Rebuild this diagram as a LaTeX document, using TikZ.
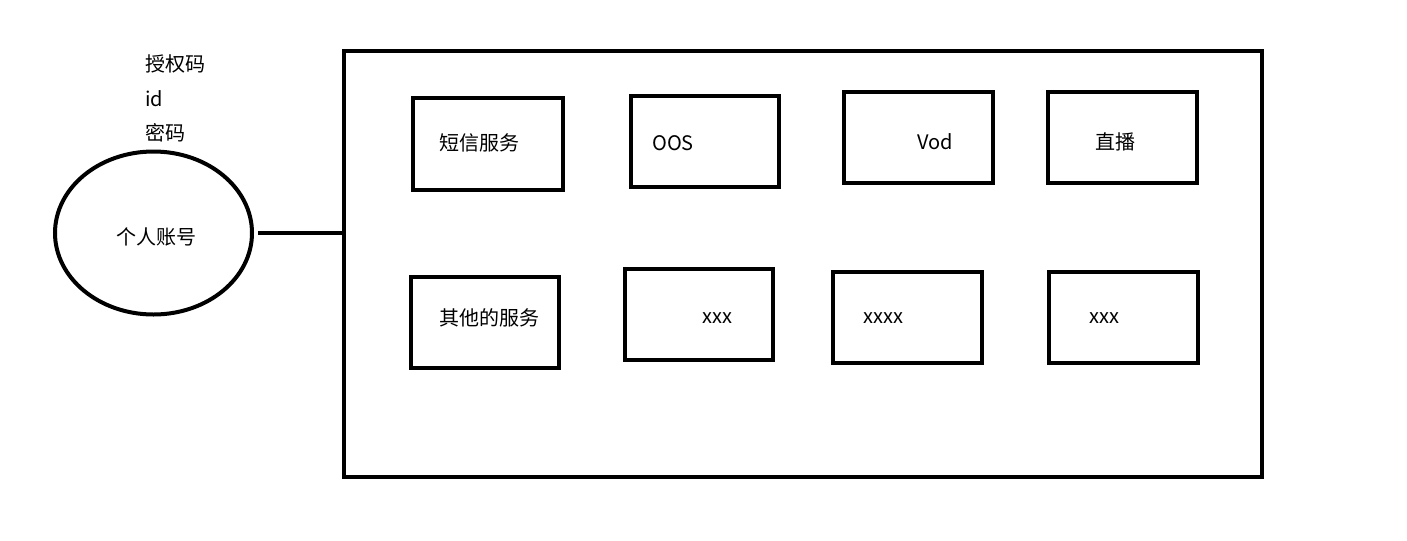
\documentclass[tikz,border=0pt]{standalone}
\usepackage{fontspec}
\setmainfont{Noto Sans CJK SC}
\usetikzlibrary{shapes.geometric}
\tikzset{
  px/.style={},
  box/.style={draw, line width=3pt, rectangle, inner sep=0pt, outer sep=0pt},
  lbl/.style={anchor=west, inner sep=0pt, font=\fontsize{15}{18}\selectfont},
  ctr/.style={inner sep=0pt, font=\fontsize{15}{18}\selectfont},
}
\begin{document}
\begin{tikzpicture}[x=0.75pt, y=-0.75pt]
\useasboundingbox (0,0) rectangle (1407,540);
% top-left texts
\node[lbl] (t1) at (145,64) {授权码};
\node[lbl] (t2) at (145,99) {id};
\node[lbl] (t3) at (145,133) {密码};
% ellipse
\node[draw, line width=3pt, ellipse, inner sep=0pt, outer sep=0pt,
      minimum width=197*0.75pt, minimum height=163*0.75pt] (acct) at (153.5,233) {};
\node[ctr] (acctt) at (156,237) {个人账号};
% big container
\node[box, minimum width=918*0.75pt, minimum height=426*0.75pt] (big) at (803,264) {};
\draw[line width=3pt, shorten <=4.5pt] (acct.east) -- (acct.east -| big.west);
% row 1
\node[box, minimum width=150*0.75pt, minimum height=92*0.75pt] (b1) at (488,144) {};
\node[lbl] (l1) at (439,143) {短信服务};
\node[box, minimum width=148*0.75pt, minimum height=91*0.75pt] (b2) at (705,141.5) {};
\node[lbl] (l2) at (652,143) {OOS};
\node[box, minimum width=149*0.75pt, minimum height=91*0.75pt] (b3) at (918.5,137.5) {};
\node[lbl] (l3) at (917,142) {Vod};
\node[box, minimum width=149*0.75pt, minimum height=91*0.75pt] (b4) at (1122.5,137.5) {};
\node[lbl] (l4) at (1095,142) {直播};
% row 2
\node[box, minimum width=148*0.75pt, minimum height=91*0.75pt] (b5) at (485,322.5) {};
\node[lbl] (l5) at (439,318) {其他的服务};
\node[box, minimum width=148*0.75pt, minimum height=91*0.75pt] (b6) at (699,314.5) {};
\node[lbl] (l6) at (702,318) {xxx};
\node[box, minimum width=149*0.75pt, minimum height=91*0.75pt] (b7) at (907.5,317.5) {};
\node[lbl] (l7) at (863,318) {xxxx};
\node[box, minimum width=149*0.75pt, minimum height=91*0.75pt] (b8) at (1123.5,317.5) {};
\node[lbl] (l8) at (1089,318) {xxx};
\end{tikzpicture}
\end{document}
